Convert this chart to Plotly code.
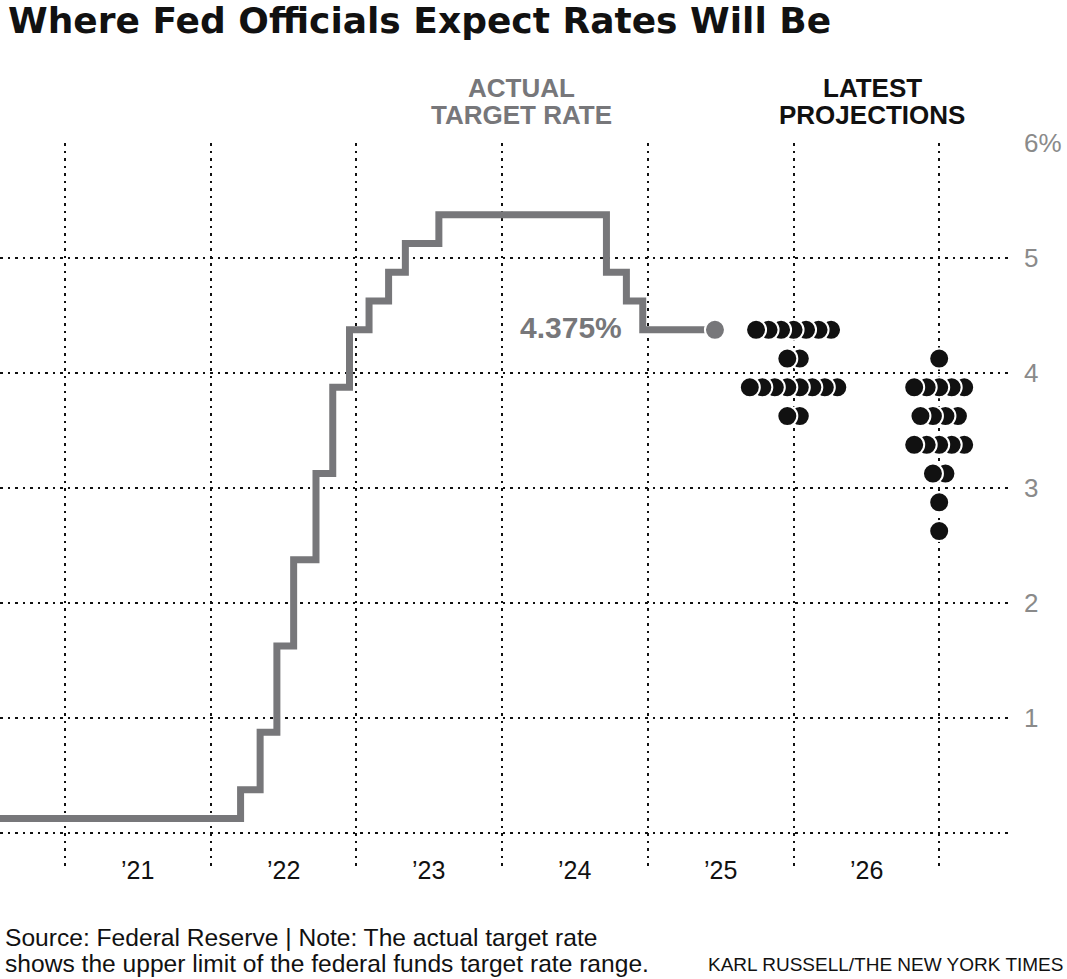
import plotly.graph_objects as go
import pandas as pd

# ---- data ----
rate_dates = ['2020-07-22', '2022-03-17', '2022-05-05', '2022-06-16', '2022-07-28',
              '2022-09-22', '2022-11-03', '2022-12-15', '2023-02-02', '2023-03-23',
              '2023-05-04', '2023-07-27', '2024-09-19', '2024-11-08', '2024-12-19',
              '2025-06-18']
rate_values = [0.125, 0.375, 0.875, 1.625, 2.375, 3.125, 3.875, 4.375, 4.625, 4.875,
               5.125, 5.375, 4.875, 4.625, 4.375, 4.375]
current_label = '4.375%'

proj_2025_center = '2026-01-01'
proj_2025_rates = [4.375, 4.125, 3.875, 3.625]
proj_2025_counts = [7, 2, 8, 2]

proj_2026_center = '2027-01-01'
proj_2026_rates = [4.125, 3.875, 3.625, 3.375, 3.125, 2.875, 2.625]
proj_2026_counts = [1, 5, 4, 5, 2, 1, 1]

year_gridlines = ['2021-01-01', '2022-01-01', '2023-01-01', '2024-01-01',
                  '2025-01-01', '2026-01-01', '2027-01-01']
year_label_pos = ['2021-07-02', '2022-07-02', '2023-07-02', '2024-07-02',
                  '2025-07-02', '2026-07-02']
year_labels = ['\u201921', '\u201922', '\u201923', '\u201924', '\u201925', '\u201926']

y_tickvals = [0, 1, 2, 3, 4, 5, 6]
y_ticktext = ['', '1', '2', '3', '4', '5', '6%']

# ---- layout constants ----
W, H = 1067, 979
PL, PR, PT, PB = 0, 1013, 143, 868   # plot area in page pixels
ML, MT = PL, PT
plot_w = PR - PL
plot_h = PB - PT
MR = W - ML - plot_w
MB = H - MT - plot_h
x_range = ['2020-07-22', '2027-07-05']
y_range = [-0.305, 6]

GRAY = '#77777a'
DOT_SPACING_PX = 12.5
range_days = (pd.Timestamp(x_range[1]) - pd.Timestamp(x_range[0])).days
px_per_day = plot_w / range_days
spacing = pd.Timedelta(days=DOT_SPACING_PX / px_per_day)


def dot_positions(center, rates, counts):
    xs, ys = [], []
    c = pd.Timestamp(center)
    for r, n in zip(rates, counts):
        # draw right to left so the leftmost dot sits on top
        for i in range(n - 1, -1, -1):
            xs.append(c + spacing * (i - (n - 1) / 2))
            ys.append(r)
    return xs, ys


fig = go.Figure()

fig.add_trace(go.Scatter(
    x=rate_dates, y=rate_values, mode='lines', line=dict(shape='hv', color=GRAY, width=7),
    hoverinfo='skip', showlegend=False))

fig.add_trace(go.Scatter(
    x=[rate_dates[-1]], y=[rate_values[-1]], mode='markers',
    marker=dict(size=20, color=GRAY, line=dict(color='white', width=2)),
    showlegend=False, hoverinfo='skip'))

for center, rates, counts in [(proj_2025_center, proj_2025_rates, proj_2025_counts),
                              (proj_2026_center, proj_2026_rates, proj_2026_counts)]:
    xs, ys = dot_positions(center, rates, counts)
    fig.add_trace(go.Scatter(
        x=xs, y=ys, mode='markers',
        marker=dict(size=20, color='#111111', line=dict(color='white', width=2)),
        showlegend=False, hoverinfo='skip'))

DOT = '2.5px,5px'
fig.update_xaxes(type='date', range=x_range, tickvals=year_gridlines, showticklabels=False,
                 showgrid=True, gridcolor='#111', gridwidth=2, griddash=DOT,
                 zeroline=False, showline=False, ticks='', fixedrange=True)
fig.update_yaxes(range=y_range, side='right', tickvals=y_tickvals, ticktext=y_ticktext,
                 showgrid=True, gridcolor='#111', gridwidth=2, griddash=DOT,
                 zeroline=False, showline=False, ticks='', ticklabelstandoff=10,
                 tickfont=dict(family='Liberation Sans', size=26, color='#8a8a8a'),
                 fixedrange=True)


def py(px):
    return (PB - px) / plot_h


def pxr(px):
    return (px - PL) / plot_w


annotations = []
for xpos, lab in zip(year_label_pos, year_labels):
    annotations.append(dict(x=xpos, xref='x', y=py(870), yref='paper', text=lab,
                            showarrow=False, xanchor='center', yanchor='middle',
                            font=dict(family='Liberation Sans', size=25, color='#111')))

HF = 26
annotations += [
    dict(x=pxr(521), y=py(88), xref='paper', yref='paper', text='<b>ACTUAL</b>',
         showarrow=False, xanchor='center', yanchor='middle',
         font=dict(family='Liberation Sans', size=HF, color=GRAY)),
    dict(x=pxr(521), y=py(115), xref='paper', yref='paper', text='<b>TARGET RATE</b>',
         showarrow=False, xanchor='center', yanchor='middle',
         font=dict(family='Liberation Sans', size=HF, color=GRAY)),
    dict(x=pxr(872), y=py(88), xref='paper', yref='paper', text='<b>LATEST</b>',
         showarrow=False, xanchor='center', yanchor='middle',
         font=dict(family='Liberation Sans', size=HF, color='#111')),
    dict(x=pxr(872), y=py(115), xref='paper', yref='paper', text='<b>PROJECTIONS</b>',
         showarrow=False, xanchor='center', yanchor='middle',
         font=dict(family='Liberation Sans', size=HF, color='#111')),
    dict(x=rate_dates[-2], xref='x', y=rate_values[-1], yref='y', text='<b>' + current_label + '</b>',
         showarrow=False, xanchor='right', yanchor='middle', xshift=-19, yshift=2,
         font=dict(family='Liberation Sans', size=30, color=GRAY)),
    dict(x=pxr(3), y=py(937), xref='paper', yref='paper',
         text='Source: Federal Reserve | Note: The actual target rate',
         showarrow=False, xanchor='left', yanchor='middle',
         font=dict(family='Liberation Sans', size=24.6, color='#111')),
    dict(x=pxr(3), y=py(963), xref='paper', yref='paper',
         text='shows the upper limit of the federal funds target rate range.',
         showarrow=False, xanchor='left', yanchor='middle',
         font=dict(family='Liberation Sans', size=24.6, color='#111')),
    dict(x=pxr(1065), y=py(965), xref='paper', yref='paper',
         text='KARL RUSSELL/THE NEW YORK TIMES',
         showarrow=False, xanchor='right', yanchor='middle',
         font=dict(family='Liberation Sans', size=19, color='#111')),
]

fig.update_layout(
    width=W, height=H,
    margin=dict(l=ML, r=MR, t=MT, b=MB, pad=0),
    paper_bgcolor='white', plot_bgcolor='white',
    title=dict(text='<b>Where Fed Officials Expect Rates Will Be</b>', x=8 / W,
               xanchor='left', xref='container', y=1 - 20 / H, yanchor='middle',
               yref='container', font=dict(family='DejaVu Sans', size=36, color='#111')),
    annotations=annotations,
    showlegend=False,
)

# the page is photographed at the window's top-left corner: drop the default body margin
fig.write_html('out.html', config={'displayModeBar': False},
               post_script="document.body.style.margin='0';")
